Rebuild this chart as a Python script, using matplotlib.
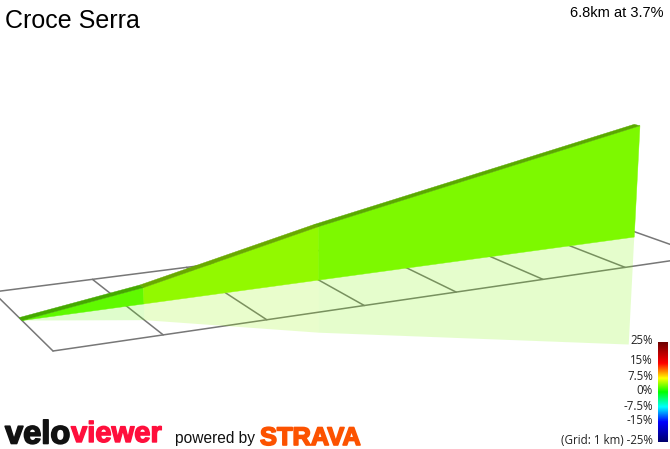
import numpy as np
import matplotlib
matplotlib.use("Agg")
import matplotlib.pyplot as plt
import matplotlib.patheffects as pe
from matplotlib.colors import LinearSegmentedColormap

# ---- data ----
title = "Croce Serra"
summary = "6.8km at 3.7%"
distance_km = [0.0, 1.17, 3.0, 6.85]
elevation_m = [0.0, 33.0, 113.0, 256.0]
grid_km = [0, 1, 2, 3, 4, 5, 6, 7]
scale_labels = ["25%", "15%", "7.5%", "0%", "-7.5%", "-15%", "(Grid: 1 km) -25%"]
scale_values = [25, 15, 7.5, 0, -7.5, -15, -25]
scale_positions = [1.0, 0.79, 0.64, 0.50, 0.35, 0.20, 0.0]
scale_colors = ["#00006e", "#0000ff", "#00ffff", "#00ff00", "#ffff00", "#ff0000", "#6e0000"]

# ---- camera: ground corners (km, lateral) -> pixels, plus vertical vanishing point ----
ground_src = [(0, 0), (7, 0), (0, 2), (7, 2)]
ground_dst = [(53, 351), (703, 256), (-7, 292), (590, 216)]
A, b = [], []
for (u, v), (x, y) in zip(ground_src, ground_dst):
    A.append([u, v, 1, 0, 0, 0, -u * x, -v * x]); b.append(x)
    A.append([0, 0, 0, u, v, 1, -u * y, -v * y]); b.append(y)
h = np.linalg.solve(np.array(A, float), np.array(b, float))
H = np.array([[h[0], h[1], h[2]], [h[3], h[4], h[5]], [h[6], h[7], 1.0]])
VP = np.array([317.0, 6400.0, 1.0])
Z_K = -8.9e-5


def project(u, v, z=0.0):
    p = H @ np.array([u, v, 1.0]) + VP * Z_K * z
    return p[0] / p[2], p[1] / p[2]


cmap = LinearSegmentedColormap.from_list(
    "grade", list(zip(scale_positions[::-1], scale_colors)))


def grade_color(g):
    return cmap(np.interp(g, scale_values[::-1], scale_positions[::-1]))


fig = plt.figure(figsize=(6.7, 4.49), dpi=100)
ax = fig.add_axes([0, 0, 1, 1])
ax.set_xlim(0, 670)
ax.set_ylim(449, 0)
ax.axis("off")

# grid
GRID = "#777777"
for k in grid_km:
    p = [project(k, 0), project(k, 2)]
    ax.plot(*zip(*p), color=GRID, lw=1.1, zorder=1, solid_capstyle="round")
for v in (0, 2):
    p = [project(grid_km[0], v), project(grid_km[-1], v)]
    ax.plot(*zip(*p), color=GRID, lw=1.1, zorder=1, solid_capstyle="round")

# wall, reflection and road
WALL_V = 0.97
ROAD_V = 0.1
MIRROR = 1.0
for i in range(len(distance_km) - 1):
    u0, u1 = distance_km[i], distance_km[i + 1]
    z0, z1 = elevation_m[i], elevation_m[i + 1]
    g = (z1 - z0) / ((u1 - u0) * 1000) * 100
    c = np.array(grade_color(g)[:3]) * np.array([1, 0.975, 1])
    wall = [project(u0, WALL_V), project(u1, WALL_V), project(u1, WALL_V, z1), project(u0, WALL_V, z0)]
    ax.fill(*zip(*wall), color=c, lw=0.3, zorder=3)
    refl = [project(u0, WALL_V), project(u1, WALL_V),
            project(u1, WALL_V, -z1 * MIRROR), project(u0, WALL_V, -z0 * MIRROR)]
    ax.fill(*zip(*refl), facecolor=c, alpha=0.2, lw=0, zorder=2)
    road = [project(u0, WALL_V, z0), project(u1, WALL_V, z1),
            project(u1, WALL_V + ROAD_V, z1), project(u0, WALL_V + ROAD_V, z0)]
    ax.fill(*zip(*road), color=c * np.array([0.72, 0.68, 1]), lw=0.3, zorder=4)

# texts
ax.text(5, 21, title, fontsize=18, family="Liberation Sans", va="center", ha="left", color="black")
ax.text(664, 13, summary, fontsize=10.5, family="Liberation Sans", va="center", ha="right", color="black")

label_y = [341, 361, 376, 391, 406, 421, 440]
for t, y in zip(scale_labels, label_y):
    ax.text(653, y, t, fontsize=8.3, family="Open Sans", va="center", ha="right", color="#222222")

grad = np.linspace(1, 0, 200).reshape(-1, 1)
ax.imshow(grad, cmap=cmap, vmin=0, vmax=1, extent=(658, 668, 442, 342), aspect="auto", zorder=5)
ax.set_xlim(0, 670)
ax.set_ylim(449, 0)

# logos as text
ax.text(5, 435, "velo", fontsize=23.5, family="Liberation Sans", weight="bold", va="center", ha="left",
        color="#111111", path_effects=[pe.withStroke(linewidth=1.2, foreground="#111111")])
ax.text(71, 434, "viewer", fontsize=21, family="Liberation Sans", weight="bold", va="center", ha="left",
        color="#ff0f3c", path_effects=[pe.withStroke(linewidth=1.0, foreground="#ff0f3c")])
ax.text(175, 439, "powered by", fontsize=11.2, family="Liberation Sans", va="center", ha="left", color="#111111")
ax.text(260, 438, "STRAVA", fontsize=18.3, family="Liberation Sans", weight="bold", va="center", ha="left",
        color="#fc5200", path_effects=[pe.withStroke(linewidth=1.2, foreground="#fc5200")])

fig.savefig("out.png", dpi=100)
